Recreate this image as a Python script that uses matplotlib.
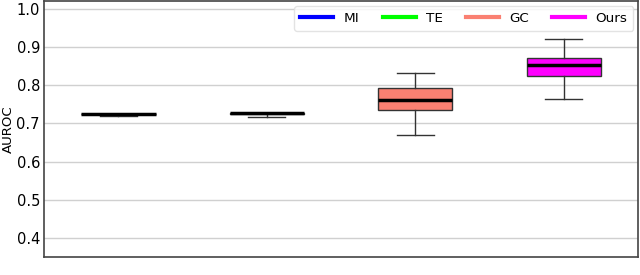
import matplotlib
matplotlib.use("Agg")
import matplotlib.pyplot as plt
from matplotlib.lines import Line2D

methods = ["MI", "TE", "GC", "Ours"]
colors = ["#0000ff", "#00ff00", "#fa8072", "#ff00ff"]

# box statistics (AUROC)
whislo = [0.720, 0.718, 0.669, 0.764]
q1 = [0.7235, 0.7255, 0.736, 0.824]
med = [0.7245, 0.7265, 0.762, 0.853]
q3 = [0.7255, 0.7275, 0.793, 0.871]
whishi = [0.7258, 0.7278, 0.832, 0.920]

stats = []
for i, name in enumerate(methods):
    stats.append({"label": name, "whislo": whislo[i], "q1": q1[i], "med": med[i],
                  "q3": q3[i], "whishi": whishi[i], "fliers": []})

fig = plt.figure(figsize=(6.4, 2.75), dpi=100)
ax = fig.add_axes([0.069, 0.065, 0.928, 0.931])

bp = ax.bxp(stats, positions=[1, 2, 3, 4], widths=0.5, patch_artist=True,
            medianprops=dict(color="black", linewidth=2.5),
            boxprops=dict(edgecolor="#333333", linewidth=1),
            whiskerprops=dict(color="#333333", linewidth=1),
            capprops=dict(color="#333333", linewidth=1))
for patch, c in zip(bp["boxes"], colors):
    patch.set_facecolor(c)

ax.set_xlim(0.5, 4.5)
ax.set_ylim(0.35, 1.02)
ax.set_yticks([0.4, 0.5, 0.6, 0.7, 0.8, 0.9, 1.0])
ax.set_xticks([])
ax.tick_params(axis="y", length=0, pad=3, labelsize=10.5)
ax.yaxis.grid(True, color="#d0d0d0", linewidth=1)
ax.set_axisbelow(True)
for s in ax.spines.values():
    s.set_color("#444444")
    s.set_linewidth(1.2)
ax.set_ylabel("AUROC", fontsize=9.6)
ax.yaxis.set_label_coords(-0.05, 0.5)

handles = [Line2D([], [], color=c, linewidth=3) for c in colors]
leg = ax.legend(handles, methods, loc="upper right", ncol=4, fontsize=9.7,
                handlelength=2.45, handletextpad=0.74, columnspacing=1.75,
                borderpad=0.45, frameon=True, borderaxespad=0.35)
leg.get_frame().set_edgecolor("#dddddd")

fig.savefig("out.png", dpi=100)
